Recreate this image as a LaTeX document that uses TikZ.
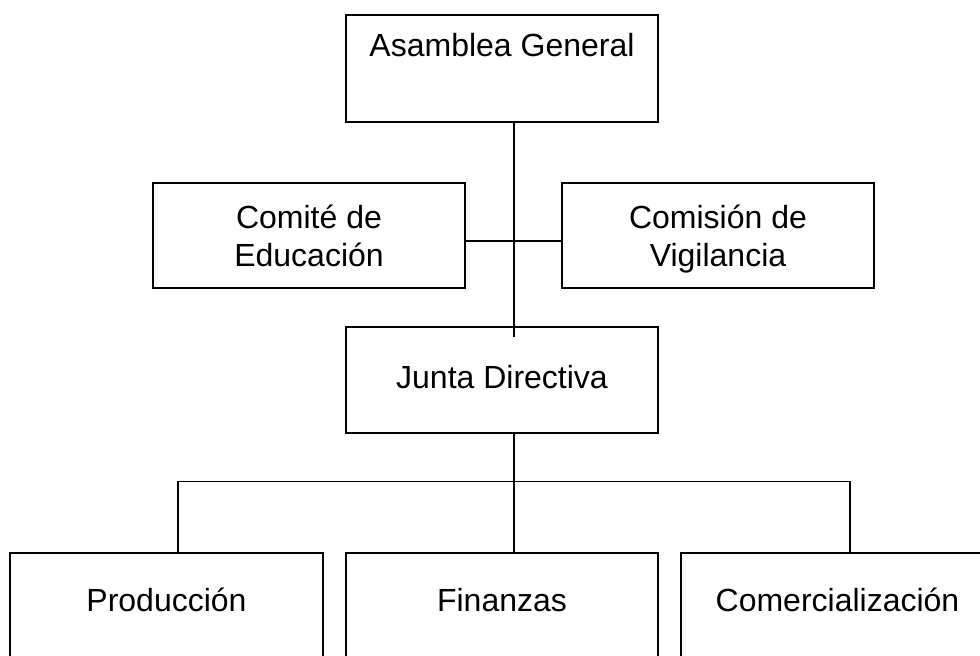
\documentclass[tikz,border=0pt]{standalone}
\usepackage{fontspec}
\setmainfont{Liberation Sans}
\begin{document}
\begin{tikzpicture}[x=1pt,y=-1pt,
  box/.style={draw, line width=1.5pt, inner sep=0pt, align=center,
    font=\fontsize{32}{38}\selectfont},
  link/.style={line width=1.5pt}]
\useasboundingbox[fill=white] (0,0) rectangle (980,656);
\node[box, minimum width=312pt, minimum height=107pt] (asam) at (502,68.5)
  {\raisebox{23.5pt}[\height][\depth]{Asamblea General}};
\node[box, minimum width=312pt, minimum height=105pt, text depth=0pt] (comite) at (309,235.5)
  {Comité de\\Educación};
\node[box, minimum width=312pt, minimum height=105pt, text depth=0pt] (comision) at (718,235.5)
  {Comisión de\\Vigilancia};
\node[box, minimum width=312pt, minimum height=106pt] (junta) at (502,380)
  {\raisebox{3pt}[\height][\depth]{Junta Directiva}};
\node[box, minimum width=313pt, minimum height=110pt] (prod) at (166.5,608)
  {\raisebox{8pt}[\height][\depth]{Producción}};
\node[box, minimum width=312pt, minimum height=110pt] (fin) at (502,608)
  {\raisebox{8pt}[\height][\depth]{Finanzas}};
\node[box, minimum width=313pt, minimum height=110pt] (comer) at (837.5,608)
  {\raisebox{8pt}[\height][\depth]{Comercialización}};
% connectors
\draw[link] ([xshift=12pt]asam.south) -- ([xshift=12pt,yshift=-11pt]junta.north);
\draw[link] ([yshift=-5.5pt]comite.east) -- ([yshift=-5.5pt]comision.west);
\draw[link] ([xshift=12pt]junta.south) -- ([xshift=12pt]fin.north);
\draw[link] ([xshift=11.5pt]prod.north) -- ++(0,-71) -| ([xshift=12.5pt]comer.north);
\end{tikzpicture}
\end{document}
